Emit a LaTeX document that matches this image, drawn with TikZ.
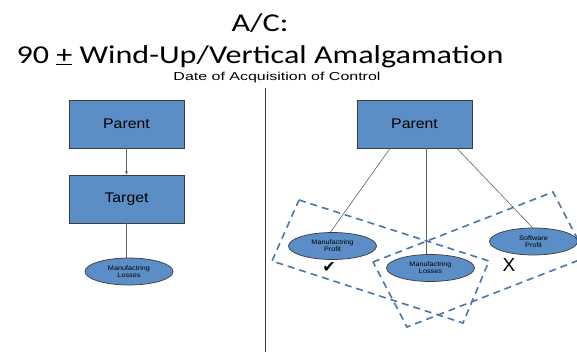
\documentclass[tikz,border=0pt]{standalone}
\usepackage{fontspec}
\setmainfont{Liberation Sans}
\newfontfamily\titlefont{Carlito}
\newfontfamily\symfont{DejaVu Sans}
\usetikzlibrary{shapes.geometric,arrows.meta}
\definecolor{boxblue}{HTML}{5B8EC6}
\definecolor{dashblue}{HTML}{4A76A8}
\definecolor{edgegray}{HTML}{3C3C3C}
\definecolor{linkgray}{HTML}{606060}
\newcommand{\stretchx}[2]{\scalebox{#1}[1]{#2}}
\begin{document}
\begin{tikzpicture}[x=1pt,y=-1pt,
  stagebox/.style={draw=edgegray, line width=0.8pt, fill=boxblue, minimum width=115pt, minimum height=48pt, inner sep=0pt, font=\fontsize{14}{16}\selectfont},
  oval/.style={ellipse, draw=edgegray, line width=0.7pt, fill=boxblue, minimum width=88pt, minimum height=27pt, inner sep=0pt, font=\fontsize{6.5}{7}\selectfont, align=center},
  link/.style={draw=linkgray, line width=0.6pt},
  zone/.style={draw=dashblue, line width=1.6pt, dash pattern=on 7pt off 5pt},
  title/.style={font=\titlefont\fontsize{25.7}{30}\selectfont, anchor=base, inner sep=0pt}]
\useasboundingbox (0,0) rectangle (577,352);
% titles
\node[title] (t1) at (260,32) {\stretchx{1.25}{A/C:}};
\node[title] (t2) at (260,63.3) {\stretchx{1.25}{90 \underline{+} Wind-Up/Vertical Amalgamation}};
\node[font=\fontsize{11.5}{13}\selectfont, anchor=base, inner sep=0pt] (t3) at (277,80.5) {\stretchx{1.39}{Date of Acquisition of Control}};
% divider
\coordinate (dtop) at (265,88);
\coordinate (dbot) at (265,352);
\draw[draw=edgegray, line width=0.9pt] (dtop) -- (dbot);
% zones
\begin{scope}
\clip (0,0) rectangle (577,352);
\draw[zone] (299,200) -- (489,261) -- (463,323) -- (272,261) -- cycle;
\draw[zone] (373,262) -- (553,192) -- (587,257) -- (407,327) -- cycle;
\end{scope}
% left side
\node[stagebox] (lp) at (126.5,124) {\stretchx{1.13}{Parent}};
\node[stagebox] (lt) at (126.5,199) {\stretchx{1.13}{Target}};
\node[oval] (ll) at (129,271.5) {\stretchx{1.12}{Manufactring}\\\stretchx{1.12}{Losses}};
\draw[link,-{Stealth[length=3.5pt,width=3pt]}] (lp.south) -- (lt.north);
\draw[link] (lt.south) -- (lt.south |- ll.north);
% right side
\node[stagebox] (rp) at (414.5,124) {\stretchx{1.13}{Parent}};
\node[oval] (mp) at (332.5,246) {\stretchx{1.12}{Manufactring}\\\stretchx{1.12}{Profit}};
\node[oval] (ml) at (430.5,268) {\stretchx{1.12}{Manufactring}\\\stretchx{1.12}{Losses}};
\node[oval] (sp) at (533.5,241.5) {\stretchx{1.12}{Software}\\\stretchx{1.12}{Profit}};
\draw[link] ([xshift=-24.5pt]rp.south) -- ([xshift=-2pt]mp.north);
\draw[link] ([xshift=11.5pt]rp.south) -- ([xshift=11.5pt]rp.south |- ml.north);
\draw[link] ([xshift=42.5pt]rp.south) -- ([xshift=-1pt]sp.north);
% marks
\node[font=\symfont\fontsize{16}{16}\selectfont, inner sep=0pt] (chk) at (329,267) {✔};
\node[font=\fontsize{19}{19}\selectfont, inner sep=0pt] (ex) at (509,265) {X};
\end{tikzpicture}
\end{document}
